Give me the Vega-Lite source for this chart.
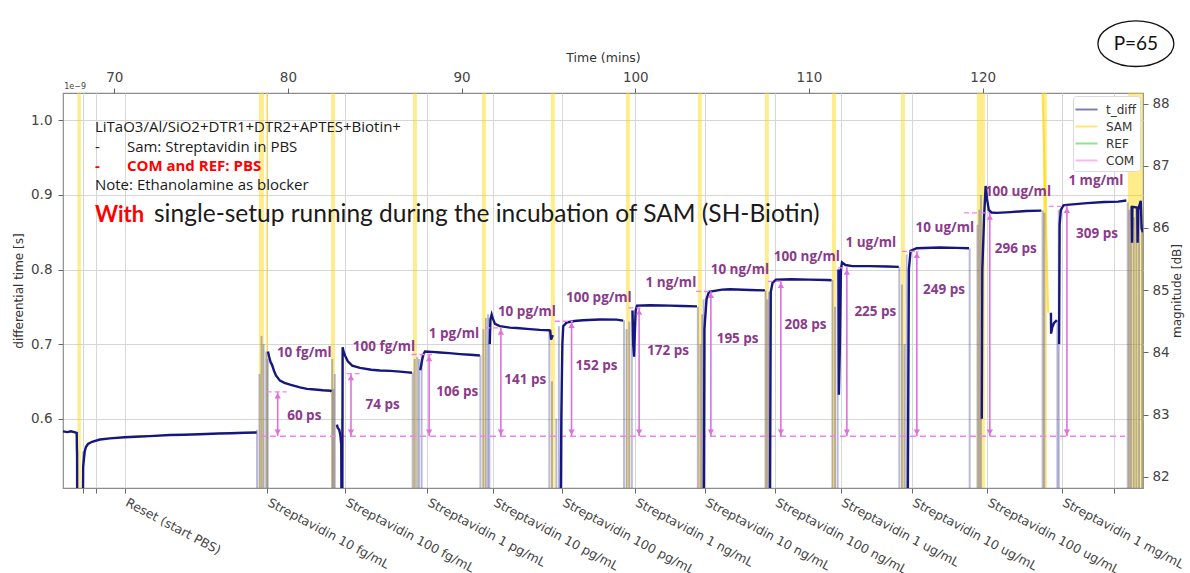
{
  "$schema": "https://vega.github.io/schema/vega-lite/v6.json",
  "width": 1080,
  "height": 395,
  "autosize": {"type": "none"},
  "padding": {"left": 63, "top": 93, "right": 47, "bottom": 85},
  "background": "#ffffff",
  "config": {
    "font": "DejaVu Sans",
    "view": {"stroke": "#8c8c8c", "strokeWidth": 1.2}
  },
  "datasets": {
    "tdiff": [
      {"t": 67.05, "v": 0.583, "seg": 0, "series": "t_diff"},
      {"t": 67.3, "v": 0.582, "seg": 0, "series": "t_diff"},
      {"t": 67.5, "v": 0.583, "seg": 0, "series": "t_diff"},
      {"t": 67.7, "v": 0.582, "seg": 0, "series": "t_diff"},
      {"t": 67.84, "v": 0.581, "seg": 0, "series": "t_diff"},
      {"t": 67.85, "v": 0.56, "seg": 0, "series": "t_diff"},
      {"t": 67.86, "v": 0.553, "seg": 0, "series": "t_diff"},
      {"t": 67.87, "v": 0.45, "seg": 0, "series": "t_diff"},
      {"t": 68.19, "v": 0.45, "seg": 1, "series": "t_diff"},
      {"t": 68.21, "v": 0.535, "seg": 1, "series": "t_diff"},
      {"t": 68.25, "v": 0.545, "seg": 1, "series": "t_diff"},
      {"t": 68.3, "v": 0.556, "seg": 1, "series": "t_diff"},
      {"t": 68.37, "v": 0.562, "seg": 1, "series": "t_diff"},
      {"t": 68.49, "v": 0.566, "seg": 1, "series": "t_diff"},
      {"t": 68.72, "v": 0.569, "seg": 1, "series": "t_diff"},
      {"t": 69.18, "v": 0.572, "seg": 1, "series": "t_diff"},
      {"t": 69.75, "v": 0.5735, "seg": 1, "series": "t_diff"},
      {"t": 70.6, "v": 0.575, "seg": 1, "series": "t_diff"},
      {"t": 71.5, "v": 0.576, "seg": 1, "series": "t_diff"},
      {"t": 72.05, "v": 0.5765, "seg": 1, "series": "t_diff"},
      {"t": 73.2, "v": 0.578, "seg": 1, "series": "t_diff"},
      {"t": 74.0, "v": 0.5785, "seg": 1, "series": "t_diff"},
      {"t": 74.9, "v": 0.579, "seg": 1, "series": "t_diff"},
      {"t": 76.0, "v": 0.58, "seg": 1, "series": "t_diff"},
      {"t": 76.7, "v": 0.5805, "seg": 1, "series": "t_diff"},
      {"t": 77.5, "v": 0.581, "seg": 1, "series": "t_diff"},
      {"t": 78.2, "v": 0.5815, "seg": 1, "series": "t_diff"},
      {"t": 78.85, "v": 0.69, "seg": 2, "series": "t_diff"},
      {"t": 78.92, "v": 0.683, "seg": 2, "series": "t_diff"},
      {"t": 79.0, "v": 0.676, "seg": 2, "series": "t_diff"},
      {"t": 79.08, "v": 0.6725, "seg": 2, "series": "t_diff"},
      {"t": 79.2, "v": 0.664, "seg": 2, "series": "t_diff"},
      {"t": 79.31, "v": 0.658, "seg": 2, "series": "t_diff"},
      {"t": 79.54, "v": 0.651, "seg": 2, "series": "t_diff"},
      {"t": 79.8, "v": 0.648, "seg": 2, "series": "t_diff"},
      {"t": 80.12, "v": 0.6455, "seg": 2, "series": "t_diff"},
      {"t": 80.69, "v": 0.642, "seg": 2, "series": "t_diff"},
      {"t": 81.1, "v": 0.64, "seg": 2, "series": "t_diff"},
      {"t": 81.55, "v": 0.639, "seg": 2, "series": "t_diff"},
      {"t": 82.0, "v": 0.638, "seg": 2, "series": "t_diff"},
      {"t": 82.45, "v": 0.6375, "seg": 2, "series": "t_diff"},
      {"t": 82.5, "v": 0.636, "seg": 2, "series": "t_diff"},
      {"t": 82.82, "v": 0.592, "seg": 3, "series": "t_diff"},
      {"t": 82.86, "v": 0.588, "seg": 3, "series": "t_diff"},
      {"t": 82.95, "v": 0.585, "seg": 3, "series": "t_diff"},
      {"t": 83.02, "v": 0.578, "seg": 3, "series": "t_diff"},
      {"t": 83.07, "v": 0.565, "seg": 3, "series": "t_diff"},
      {"t": 83.09, "v": 0.45, "seg": 3, "series": "t_diff"},
      {"t": 83.13, "v": 0.45, "seg": 4, "series": "t_diff"},
      {"t": 83.15, "v": 0.6957, "seg": 4, "series": "t_diff"},
      {"t": 83.2, "v": 0.69, "seg": 4, "series": "t_diff"},
      {"t": 83.3, "v": 0.684, "seg": 4, "series": "t_diff"},
      {"t": 83.45, "v": 0.677, "seg": 4, "series": "t_diff"},
      {"t": 83.7, "v": 0.671, "seg": 4, "series": "t_diff"},
      {"t": 84.15, "v": 0.668, "seg": 4, "series": "t_diff"},
      {"t": 84.8, "v": 0.6655, "seg": 4, "series": "t_diff"},
      {"t": 85.3, "v": 0.6645, "seg": 4, "series": "t_diff"},
      {"t": 85.9, "v": 0.664, "seg": 4, "series": "t_diff"},
      {"t": 86.45, "v": 0.663, "seg": 4, "series": "t_diff"},
      {"t": 86.9, "v": 0.662, "seg": 4, "series": "t_diff"},
      {"t": 87.14, "v": 0.6615, "seg": 4, "series": "t_diff"},
      {"t": 87.62, "v": 0.665, "seg": 5, "series": "t_diff"},
      {"t": 87.72, "v": 0.678, "seg": 5, "series": "t_diff"},
      {"t": 87.8, "v": 0.686, "seg": 5, "series": "t_diff"},
      {"t": 87.89, "v": 0.69, "seg": 5, "series": "t_diff"},
      {"t": 88.3, "v": 0.6895, "seg": 5, "series": "t_diff"},
      {"t": 88.75, "v": 0.6888, "seg": 5, "series": "t_diff"},
      {"t": 89.3, "v": 0.6878, "seg": 5, "series": "t_diff"},
      {"t": 89.9, "v": 0.6866, "seg": 5, "series": "t_diff"},
      {"t": 90.5, "v": 0.6856, "seg": 5, "series": "t_diff"},
      {"t": 91.05, "v": 0.6846, "seg": 5, "series": "t_diff"},
      {"t": 91.62, "v": 0.7, "seg": 6, "series": "t_diff"},
      {"t": 91.66, "v": 0.733, "seg": 6, "series": "t_diff"},
      {"t": 91.73, "v": 0.7395, "seg": 6, "series": "t_diff"},
      {"t": 91.8, "v": 0.734, "seg": 6, "series": "t_diff"},
      {"t": 91.92, "v": 0.727, "seg": 6, "series": "t_diff"},
      {"t": 92.2, "v": 0.724, "seg": 6, "series": "t_diff"},
      {"t": 92.78, "v": 0.722, "seg": 6, "series": "t_diff"},
      {"t": 93.17, "v": 0.7215, "seg": 6, "series": "t_diff"},
      {"t": 93.93, "v": 0.72, "seg": 6, "series": "t_diff"},
      {"t": 94.5, "v": 0.719, "seg": 6, "series": "t_diff"},
      {"t": 95.03, "v": 0.7185, "seg": 6, "series": "t_diff"},
      {"t": 95.1, "v": 0.718, "seg": 6, "series": "t_diff"},
      {"t": 95.15, "v": 0.706, "seg": 6, "series": "t_diff"},
      {"t": 95.25, "v": 0.712, "seg": 6, "series": "t_diff"},
      {"t": 95.7, "v": 0.45, "seg": 7, "series": "t_diff"},
      {"t": 95.74, "v": 0.6, "seg": 7, "series": "t_diff"},
      {"t": 95.8, "v": 0.7, "seg": 7, "series": "t_diff"},
      {"t": 95.85, "v": 0.724, "seg": 7, "series": "t_diff"},
      {"t": 96.05, "v": 0.729, "seg": 7, "series": "t_diff"},
      {"t": 96.5, "v": 0.731, "seg": 7, "series": "t_diff"},
      {"t": 96.98, "v": 0.732, "seg": 7, "series": "t_diff"},
      {"t": 97.96, "v": 0.733, "seg": 7, "series": "t_diff"},
      {"t": 98.92, "v": 0.7328, "seg": 7, "series": "t_diff"},
      {"t": 99.3, "v": 0.7315, "seg": 7, "series": "t_diff"},
      {"t": 99.84, "v": 0.745, "seg": 8, "series": "t_diff"},
      {"t": 99.88, "v": 0.7, "seg": 8, "series": "t_diff"},
      {"t": 99.93, "v": 0.683, "seg": 8, "series": "t_diff"},
      {"t": 99.98, "v": 0.72, "seg": 8, "series": "t_diff"},
      {"t": 100.02, "v": 0.745, "seg": 8, "series": "t_diff"},
      {"t": 100.1, "v": 0.7516, "seg": 8, "series": "t_diff"},
      {"t": 100.84, "v": 0.752, "seg": 8, "series": "t_diff"},
      {"t": 101.5, "v": 0.7518, "seg": 8, "series": "t_diff"},
      {"t": 101.99, "v": 0.7515, "seg": 8, "series": "t_diff"},
      {"t": 102.7, "v": 0.751, "seg": 8, "series": "t_diff"},
      {"t": 103.55, "v": 0.7505, "seg": 8, "series": "t_diff"},
      {"t": 103.94, "v": 0.45, "seg": 9, "series": "t_diff"},
      {"t": 103.98, "v": 0.72, "seg": 9, "series": "t_diff"},
      {"t": 104.1, "v": 0.76, "seg": 9, "series": "t_diff"},
      {"t": 104.24, "v": 0.77, "seg": 9, "series": "t_diff"},
      {"t": 105.0, "v": 0.773, "seg": 9, "series": "t_diff"},
      {"t": 105.45, "v": 0.7735, "seg": 9, "series": "t_diff"},
      {"t": 106.6, "v": 0.7725, "seg": 9, "series": "t_diff"},
      {"t": 107.46, "v": 0.772, "seg": 9, "series": "t_diff"},
      {"t": 107.75, "v": 0.45, "seg": 10, "series": "t_diff"},
      {"t": 107.8, "v": 0.77, "seg": 10, "series": "t_diff"},
      {"t": 107.9, "v": 0.782, "seg": 10, "series": "t_diff"},
      {"t": 108.1, "v": 0.7865, "seg": 10, "series": "t_diff"},
      {"t": 109.0, "v": 0.787, "seg": 10, "series": "t_diff"},
      {"t": 110.0, "v": 0.7865, "seg": 10, "series": "t_diff"},
      {"t": 111.0, "v": 0.786, "seg": 10, "series": "t_diff"},
      {"t": 111.3, "v": 0.7855, "seg": 10, "series": "t_diff"},
      {"t": 111.7, "v": 0.8, "seg": 11, "series": "t_diff"},
      {"t": 111.72, "v": 0.632, "seg": 11, "series": "t_diff"},
      {"t": 111.78, "v": 0.7, "seg": 11, "series": "t_diff"},
      {"t": 111.84, "v": 0.8, "seg": 11, "series": "t_diff"},
      {"t": 111.9, "v": 0.8095, "seg": 11, "series": "t_diff"},
      {"t": 112.1, "v": 0.806, "seg": 11, "series": "t_diff"},
      {"t": 112.5, "v": 0.8045, "seg": 11, "series": "t_diff"},
      {"t": 113.5, "v": 0.8045, "seg": 11, "series": "t_diff"},
      {"t": 114.5, "v": 0.804, "seg": 11, "series": "t_diff"},
      {"t": 115.17, "v": 0.8035, "seg": 11, "series": "t_diff"},
      {"t": 115.68, "v": 0.45, "seg": 12, "series": "t_diff"},
      {"t": 115.75, "v": 0.8, "seg": 12, "series": "t_diff"},
      {"t": 115.85, "v": 0.825, "seg": 12, "series": "t_diff"},
      {"t": 116.2, "v": 0.8285, "seg": 12, "series": "t_diff"},
      {"t": 117.54, "v": 0.8295, "seg": 12, "series": "t_diff"},
      {"t": 118.5, "v": 0.829, "seg": 12, "series": "t_diff"},
      {"t": 119.21, "v": 0.8285, "seg": 12, "series": "t_diff"},
      {"t": 119.95, "v": 0.6, "seg": 13, "series": "t_diff"},
      {"t": 119.98, "v": 0.8, "seg": 13, "series": "t_diff"},
      {"t": 120.08, "v": 0.87, "seg": 13, "series": "t_diff"},
      {"t": 120.17, "v": 0.912, "seg": 13, "series": "t_diff"},
      {"t": 120.25, "v": 0.895, "seg": 13, "series": "t_diff"},
      {"t": 120.35, "v": 0.88, "seg": 13, "series": "t_diff"},
      {"t": 120.5, "v": 0.8765, "seg": 13, "series": "t_diff"},
      {"t": 120.8, "v": 0.876, "seg": 13, "series": "t_diff"},
      {"t": 121.6, "v": 0.877, "seg": 13, "series": "t_diff"},
      {"t": 122.5, "v": 0.8785, "seg": 13, "series": "t_diff"},
      {"t": 123.38, "v": 0.879, "seg": 13, "series": "t_diff"},
      {"t": 123.93, "v": 0.742, "seg": 14, "series": "t_diff"},
      {"t": 123.94, "v": 0.714, "seg": 14, "series": "t_diff"},
      {"t": 124.0, "v": 0.722, "seg": 14, "series": "t_diff"},
      {"t": 124.1, "v": 0.728, "seg": 14, "series": "t_diff"},
      {"t": 124.27, "v": 0.732, "seg": 14, "series": "t_diff"},
      {"t": 124.4, "v": 0.7, "seg": 15, "series": "t_diff"},
      {"t": 124.43, "v": 0.86, "seg": 15, "series": "t_diff"},
      {"t": 124.5, "v": 0.88, "seg": 15, "series": "t_diff"},
      {"t": 124.65, "v": 0.886, "seg": 15, "series": "t_diff"},
      {"t": 125.0, "v": 0.887, "seg": 15, "series": "t_diff"},
      {"t": 126.0, "v": 0.889, "seg": 15, "series": "t_diff"},
      {"t": 127.0, "v": 0.8905, "seg": 15, "series": "t_diff"},
      {"t": 127.8, "v": 0.891, "seg": 15, "series": "t_diff"},
      {"t": 128.27, "v": 0.8925, "seg": 15, "series": "t_diff"},
      {"t": 128.58, "v": 0.885, "seg": 16, "series": "t_diff"},
      {"t": 128.6, "v": 0.836, "seg": 16, "series": "t_diff"},
      {"t": 128.62, "v": 0.884, "seg": 16, "series": "t_diff"},
      {"t": 128.9, "v": 0.883, "seg": 16, "series": "t_diff"},
      {"t": 128.92, "v": 0.836, "seg": 16, "series": "t_diff"},
      {"t": 128.95, "v": 0.88, "seg": 16, "series": "t_diff"},
      {"t": 129.1, "v": 0.892, "seg": 16, "series": "t_diff"},
      {"t": 129.15, "v": 0.855, "seg": 16, "series": "t_diff"},
      {"t": 129.22, "v": 0.85, "seg": 16, "series": "t_diff"}
    ],
    "spikes": [
      {"t": 68.2, "top": 0.556},
      {"t": 78.22, "top": 0.585}, {"t": 78.36, "top": 0.66}, {"t": 78.48, "top": 0.711}, {"t": 78.6, "top": 0.7}, {"t": 78.75, "top": 0.69}, {"t": 78.84, "top": 0.68},
      {"t": 82.55, "top": 0.68}, {"t": 82.62, "top": 0.64}, {"t": 82.7, "top": 0.66}, {"t": 83.1, "top": 0.6},
      {"t": 87.18, "top": 0.662}, {"t": 87.3, "top": 0.68}, {"t": 87.45, "top": 0.683}, {"t": 87.55, "top": 0.68}, {"t": 87.7, "top": 0.686},
      {"t": 91.08, "top": 0.685}, {"t": 91.25, "top": 0.72}, {"t": 91.4, "top": 0.735}, {"t": 91.52, "top": 0.74}, {"t": 91.6, "top": 0.735},
      {"t": 95.05, "top": 0.718}, {"t": 95.2, "top": 0.65}, {"t": 95.45, "top": 0.6}, {"t": 95.6, "top": 0.724},
      {"t": 99.35, "top": 0.732}, {"t": 99.5, "top": 0.72}, {"t": 99.65, "top": 0.73}, {"t": 99.8, "top": 0.745},
      {"t": 103.6, "top": 0.75}, {"t": 103.75, "top": 0.7}, {"t": 103.85, "top": 0.74}, {"t": 103.93, "top": 0.76},
      {"t": 107.5, "top": 0.772}, {"t": 107.6, "top": 0.76}, {"t": 107.7, "top": 0.77},
      {"t": 111.35, "top": 0.786}, {"t": 111.5, "top": 0.75}, {"t": 111.65, "top": 0.8},
      {"t": 115.2, "top": 0.8035}, {"t": 115.35, "top": 0.78}, {"t": 115.5, "top": 0.7}, {"t": 115.62, "top": 0.82},
      {"t": 119.25, "top": 0.8285}, {"t": 119.7, "top": 0.86}, {"t": 119.8, "top": 0.88}, {"t": 119.9, "top": 0.9},
      {"t": 123.45, "top": 0.879}, {"t": 123.55, "top": 0.876}, {"t": 124.3, "top": 0.732}, {"t": 124.38, "top": 0.88},
      {"t": 128.35, "top": 0.89}, {"t": 128.45, "top": 0.88}, {"t": 128.55, "top": 0.885}, {"t": 128.7, "top": 0.87}, {"t": 128.85, "top": 0.883}, {"t": 129.0, "top": 0.88}, {"t": 129.18, "top": 0.86}
    ],
    "bands": [
      {"t1": 67.88, "t2": 68.08},
      {"t1": 78.33, "t2": 78.62},
      {"t1": 78.73, "t2": 78.85},
      {"t1": 82.48, "t2": 82.71},
      {"t1": 87.2, "t2": 87.43},
      {"t1": 91.17, "t2": 91.4},
      {"t1": 95.14, "t2": 95.37},
      {"t1": 99.46, "t2": 99.69},
      {"t1": 103.6, "t2": 103.83},
      {"t1": 107.46, "t2": 107.69},
      {"t1": 111.32, "t2": 111.55},
      {"t1": 115.29, "t2": 115.52},
      {"t1": 119.67, "t2": 120.13},
      {"t1": 123.47, "t2": 123.7},
      {"t1": 128.36, "t2": 129.23}
    ],
    "arrows": [
      {"t": 79.41, "top": 0.636, "m1": 78.77, "m2": 79.93},
      {"t": 83.63, "top": 0.6605, "m1": 83.38, "m2": 84.15},
      {"t": 88.13, "top": 0.686, "m1": 87.12, "m2": 88.3},
      {"t": 92.26, "top": 0.7217, "m1": 91.36, "m2": 92.3},
      {"t": 96.33, "top": 0.7306, "m1": 95.37, "m2": 96.4},
      {"t": 100.22, "top": 0.7485, "m1": 99.6, "m2": 100.3},
      {"t": 104.35, "top": 0.7708, "m1": 103.5, "m2": 104.4},
      {"t": 108.38, "top": 0.7842, "m1": 107.63, "m2": 108.4},
      {"t": 112.18, "top": 0.8021, "m1": 111.67, "m2": 112.25},
      {"t": 116.21, "top": 0.8244, "m1": 115.35, "m2": 116.3},
      {"t": 120.41, "top": 0.8759, "m1": 118.92, "m2": 120.36},
      {"t": 124.85, "top": 0.8847, "m1": 123.81, "m2": 124.9}
    ],
    "conc": [
      {"t": 80.94, "v": 0.6887, "txt": "10 fg/ml"},
      {"t": 85.53, "v": 0.6957, "txt": "100 fg/ml"},
      {"t": 89.56, "v": 0.714, "txt": "1 pg/ml"},
      {"t": 93.76, "v": 0.7436, "txt": "10 pg/ml"},
      {"t": 97.9, "v": 0.7623, "txt": "100 pg/ml"},
      {"t": 102.05, "v": 0.7825, "txt": "1 ng/ml"},
      {"t": 106.02, "v": 0.7999, "txt": "10 ng/ml"},
      {"t": 109.88, "v": 0.8173, "txt": "100 ng/ml"},
      {"t": 113.56, "v": 0.8361, "txt": "1 ug/ml"},
      {"t": 117.82, "v": 0.8562, "txt": "10 ug/ml"},
      {"t": 122.03, "v": 0.9044, "txt": "100 ug/ml"},
      {"t": 126.52, "v": 0.9192, "txt": "1 mg/ml"}
    ],
    "ps": [
      {"t": 80.94, "v": 0.6036, "txt": "60 ps"},
      {"t": 85.45, "v": 0.6185, "txt": "74 ps"},
      {"t": 89.75, "v": 0.6354, "txt": "106 ps"},
      {"t": 93.66, "v": 0.6524, "txt": "141 ps"},
      {"t": 97.77, "v": 0.6702, "txt": "152 ps"},
      {"t": 101.88, "v": 0.6903, "txt": "172 ps"},
      {"t": 105.89, "v": 0.7074, "txt": "195 ps"},
      {"t": 109.8, "v": 0.7252, "txt": "208 ps"},
      {"t": 113.82, "v": 0.7432, "txt": "225 ps"},
      {"t": 117.77, "v": 0.773, "txt": "249 ps"},
      {"t": 121.9, "v": 0.8276, "txt": "296 ps"},
      {"t": 126.58, "v": 0.8477, "txt": "309 ps"}
    ],
    "notes": [
      {"t": 68.89, "v": 0.9912, "txt": "LiTaO3/Al/SiO2+DTR1+DTR2+APTES+Biotin+"},
      {"t": 68.89, "v": 0.9643, "txt": "-"},
      {"t": 70.73, "v": 0.9643, "txt": "Sam: Streptavidin in PBS"},
      {"t": 68.89, "v": 0.9129, "txt": "Note: Ethanolamine as blocker"}
    ],
    "notesRed": [
      {"t": 68.89, "v": 0.9393, "txt": "-"},
      {"t": 70.73, "v": 0.9393, "txt": "COM and REF: PBS"}
    ],
    "bigRed": [{"t": 68.89, "v": 0.8736, "txt": "With"}],
    "bigBlack": [{"t": 72.29, "v": 0.8736, "txt": "single-setup running during the incubation of SAM (SH-Biotin)"}],
    "badge": [{"t": 128.82, "v": 1.1028, "txt": "P=65"}],
    "expo": [{"t": 67.12, "v": 1.0395, "txt": "1e\u22129"}],
    "diag": [{"t1": 123.45, "t2": 123.77, "v1": 1.0367, "v2": 0.742}],
    "com": [{"t1": 78.39, "t2": 128.2, "v": 0.5764}],
    "mag": [{"t": 100, "m": 85}]
  },
  "layer": [
    {
      "layer": [
        {
          "data": {"name": "bands"},
          "mark": {"type": "rect", "color": "#FFD700", "opacity": 0.45},
          "encoding": {
            "x": {"field": "t1", "type": "quantitative", "scale": {"domain": [67.05, 129.23], "nice": false, "zero": false}},
            "x2": {"field": "t2"}
          }
        },
        {
          "data": {"name": "diag"},
          "mark": {"type": "rule", "color": "#FFD700", "opacity": 0.7, "strokeWidth": 2},
          "encoding": {
            "x": {"field": "t1", "type": "quantitative", "scale": {"domain": [67.05, 129.23], "nice": false, "zero": false}},
            "x2": {"field": "t2"},
            "y": {"field": "v1", "type": "quantitative", "scale": {"domain": [0.507, 1.0367], "nice": false, "zero": false}},
            "y2": {"field": "v2"}
          }
        },
        {
          "data": {"name": "spikes"},
          "mark": {"type": "rule", "color": "#3c3c96", "opacity": 0.35, "strokeWidth": 2, "clip": true},
          "encoding": {
            "x": {"field": "t", "type": "quantitative", "scale": {"domain": [67.05, 129.23], "nice": false, "zero": false}},
            "y": {"field": "top", "type": "quantitative", "scale": {"domain": [0.507, 1.0367], "nice": false, "zero": false}},
            "y2": {"datum": 0.45}
          }
        },
        {
          "data": {"name": "com"},
          "mark": {"type": "rule", "color": "#EE82EE", "strokeWidth": 1.3, "strokeDash": [6, 4]},
          "encoding": {
            "x": {"field": "t1", "type": "quantitative", "scale": {"domain": [67.05, 129.23], "nice": false, "zero": false}},
            "x2": {"field": "t2"},
            "y": {"field": "v", "type": "quantitative", "scale": {"domain": [0.507, 1.0367], "nice": false, "zero": false}}
          }
        },
        {
          "data": {"name": "tdiff"},
          "mark": {"type": "line", "clip": true, "strokeWidth": 2.4},
          "encoding": {
            "x": {
              "field": "t", "type": "quantitative",
              "scale": {"domain": [67.05, 129.23], "nice": false, "zero": false},
              "axis": {
                "orient": "bottom",
                "values": [68.2, 68.95, 70.62, 78.79, 83.28, 88.0, 91.8, 95.77, 99.97, 104.0, 108.03, 111.83, 115.92, 120.24, 124.55, 127.55],
                "labelExpr": "datum.value < 70 ? '' : datum.value < 75 ? 'Reset (start PBS)' : datum.value < 81 ? 'Streptavidin 10 fg/mL' : datum.value < 86 ? 'Streptavidin 100 fg/mL' : datum.value < 90 ? 'Streptavidin 1 pg/mL' : datum.value < 94 ? 'Streptavidin 10 pg/mL' : datum.value < 98 ? 'Streptavidin 100 pg/mL' : datum.value < 102 ? 'Streptavidin 1 ng/mL' : datum.value < 106 ? 'Streptavidin 10 ng/mL' : datum.value < 110 ? 'Streptavidin 100 ng/mL' : datum.value < 114 ? 'Streptavidin 1 ug/mL' : datum.value < 118 ? 'Streptavidin 10 ug/mL' : datum.value < 122 ? 'Streptavidin 100 ug/mL' : datum.value < 126 ? 'Streptavidin 1 mg/mL' : ''",
                "labelAngle": 28,
                "labelAlign": "left",
                "labelBaseline": "top",
                "labelFontSize": 12.5,
                "labelColor": "#444444",
                "labelPadding": 3,
                "labelOffset": 4,
                "labelOverlap": false,
                "labelBound": false,
                "labelFlush": false,
                "tickSize": 5,
                "tickColor": "#666666",
                "domain": false,
                "grid": true,
                "gridColor": "#d6d6d6",
                "title": null
              }
            },
            "y": {
              "field": "v", "type": "quantitative",
              "scale": {"domain": [0.507, 1.0367], "nice": false, "zero": false},
              "axis": {
                "orient": "left",
                "values": [0.6, 0.7, 0.8, 0.9, 1.0],
                "format": ".1f",
                "labelFontSize": 13.5,
                "labelColor": "#444444",
                "labelPadding": 6,
                "tickSize": 5,
                "tickColor": "#666666",
                "domain": false,
                "grid": true,
                "gridColor": "#d6d6d6",
                "title": "differential time [s]",
                "titleFontSize": 12,
                "titleFontWeight": "normal",
                "titleColor": "#333333",
                "titlePadding": 5
              }
            },
            "detail": {"field": "seg", "type": "nominal"},
            "color": {
              "field": "series", "type": "nominal",
              "scale": {"domain": ["t_diff", "SAM", "REF", "COM"], "range": ["#16167e", "#FFD700", "#32CD32", "#EE82EE"]},
              "legend": {
                "orient": "top-right",
                "title": null,
                "symbolType": "M -1.3 0 L 1.3 0",
                "symbolStrokeWidth": 2,
                "symbolSize": 289,
                "symbolOpacity": 0.55,
                "labelFontSize": 12,
                "labelColor": "#333333",
                "labelOffset": 10,
                "fillColor": "#ffffff",
                "strokeColor": "#d9d9d9",
                "cornerRadius": 3,
                "padding": 4,
                "rowPadding": 1,
                "offset": 3
              }
            }
          }
        },
        {
          "data": {"name": "arrows"},
          "mark": {"type": "rule", "color": "#E070DC", "strokeWidth": 1.6},
          "encoding": {
            "x": {"field": "t", "type": "quantitative", "scale": {"domain": [67.05, 129.23], "nice": false, "zero": false}},
            "y": {"field": "top", "type": "quantitative", "scale": {"domain": [0.507, 1.0367], "nice": false, "zero": false}},
            "y2": {"datum": 0.5764}
          }
        },
        {
          "data": {"name": "arrows"},
          "mark": {"type": "rule", "color": "#EE82EE", "strokeWidth": 1.3, "strokeDash": [5, 3]},
          "encoding": {
            "x": {"field": "m1", "type": "quantitative", "scale": {"domain": [67.05, 129.23], "nice": false, "zero": false}},
            "x2": {"field": "m2"},
            "y": {"field": "top", "type": "quantitative", "scale": {"domain": [0.507, 1.0367], "nice": false, "zero": false}}
          }
        },
        {
          "data": {"name": "arrows"},
          "mark": {"type": "point", "shape": "triangle-up", "filled": true, "color": "#E070DC", "opacity": 1, "size": 40, "yOffset": 4},
          "encoding": {
            "x": {"field": "t", "type": "quantitative", "scale": {"domain": [67.05, 129.23], "nice": false, "zero": false}},
            "y": {"field": "top", "type": "quantitative", "scale": {"domain": [0.507, 1.0367], "nice": false, "zero": false}}
          }
        },
        {
          "data": {"name": "arrows"},
          "mark": {"type": "point", "shape": "triangle-down", "filled": true, "color": "#E070DC", "opacity": 1, "size": 40, "yOffset": -4},
          "encoding": {
            "x": {"field": "t", "type": "quantitative", "scale": {"domain": [67.05, 129.23], "nice": false, "zero": false}},
            "y": {"datum": 0.5764, "type": "quantitative", "scale": {"domain": [0.507, 1.0367], "nice": false, "zero": false}}
          }
        },
        {
          "data": {"name": "conc"},
          "mark": {"type": "text", "font": "Open Sans", "fontWeight": "bold", "fontSize": 13.5, "color": "#8b3a8b", "align": "center", "baseline": "middle"},
          "encoding": {
            "x": {"field": "t", "type": "quantitative", "scale": {"domain": [67.05, 129.23], "nice": false, "zero": false}},
            "y": {"field": "v", "type": "quantitative", "scale": {"domain": [0.507, 1.0367], "nice": false, "zero": false}},
            "text": {"field": "txt"}
          }
        },
        {
          "data": {"name": "ps"},
          "mark": {"type": "text", "font": "Open Sans", "fontWeight": "bold", "fontSize": 13.5, "color": "#8b3a8b", "align": "center", "baseline": "middle"},
          "encoding": {
            "x": {"field": "t", "type": "quantitative", "scale": {"domain": [67.05, 129.23], "nice": false, "zero": false}},
            "y": {"field": "v", "type": "quantitative", "scale": {"domain": [0.507, 1.0367], "nice": false, "zero": false}},
            "text": {"field": "txt"}
          }
        },
        {
          "data": {"name": "notes"},
          "mark": {"type": "text", "font": "Open Sans", "fontSize": 15, "color": "#1a1a1a", "align": "left", "baseline": "middle"},
          "encoding": {
            "x": {"field": "t", "type": "quantitative", "scale": {"domain": [67.05, 129.23], "nice": false, "zero": false}},
            "y": {"field": "v", "type": "quantitative", "scale": {"domain": [0.507, 1.0367], "nice": false, "zero": false}},
            "text": {"field": "txt"}
          }
        },
        {
          "data": {"name": "notesRed"},
          "mark": {"type": "text", "font": "Open Sans", "fontSize": 15, "fontWeight": "bold", "color": "#ff0000", "align": "left", "baseline": "middle"},
          "encoding": {
            "x": {"field": "t", "type": "quantitative", "scale": {"domain": [67.05, 129.23], "nice": false, "zero": false}},
            "y": {"field": "v", "type": "quantitative", "scale": {"domain": [0.507, 1.0367], "nice": false, "zero": false}},
            "text": {"field": "txt"}
          }
        },
        {
          "data": {"name": "bigRed"},
          "mark": {"type": "text", "font": "Lato", "fontSize": 22, "fontWeight": "bold", "color": "#ff0000", "align": "left", "baseline": "middle"},
          "encoding": {
            "x": {"field": "t", "type": "quantitative", "scale": {"domain": [67.05, 129.23], "nice": false, "zero": false}},
            "y": {"field": "v", "type": "quantitative", "scale": {"domain": [0.507, 1.0367], "nice": false, "zero": false}},
            "text": {"field": "txt"}
          }
        },
        {
          "data": {"name": "bigBlack"},
          "mark": {"type": "text", "font": "Lato", "fontSize": 24.5, "color": "#1a1a1a", "align": "left", "baseline": "middle"},
          "encoding": {
            "x": {"field": "t", "type": "quantitative", "scale": {"domain": [67.05, 129.23], "nice": false, "zero": false}},
            "y": {"field": "v", "type": "quantitative", "scale": {"domain": [0.507, 1.0367], "nice": false, "zero": false}},
            "text": {"field": "txt"}
          }
        },
        {
          "data": {"name": "badge"},
          "mark": {"type": "point", "shape": "M -1 0 A 1 0.6 0 1 0 1 0 A 1 0.6 0 1 0 -1 0 Z", "filled": false, "stroke": "#111111", "strokeWidth": 1.3, "opacity": 1, "size": 5776},
          "encoding": {
            "x": {"field": "t", "type": "quantitative", "scale": {"domain": [67.05, 129.23], "nice": false, "zero": false}},
            "y": {"field": "v", "type": "quantitative", "scale": {"domain": [0.507, 1.0367], "nice": false, "zero": false}}
          }
        },
        {
          "data": {"name": "badge"},
          "mark": {"type": "text", "font": "Lato", "fontSize": 19, "color": "#111111", "align": "center", "baseline": "middle"},
          "encoding": {
            "x": {"field": "t", "type": "quantitative", "scale": {"domain": [67.05, 129.23], "nice": false, "zero": false}},
            "y": {"field": "v", "type": "quantitative", "scale": {"domain": [0.507, 1.0367], "nice": false, "zero": false}},
            "text": {"field": "txt"}
          }
        },
        {
          "data": {"name": "expo"},
          "mark": {"type": "text", "fontSize": 8, "color": "#444444", "align": "left", "baseline": "bottom"},
          "encoding": {
            "x": {"field": "t", "type": "quantitative", "scale": {"domain": [67.05, 129.23], "nice": false, "zero": false}},
            "y": {"field": "v", "type": "quantitative", "scale": {"domain": [0.507, 1.0367], "nice": false, "zero": false}},
            "text": {"field": "txt"}
          }
        }
      ]
    },
    {
      "data": {"name": "mag"},
      "mark": {"type": "point", "opacity": 0},
      "encoding": {
        "x": {
          "field": "t", "type": "quantitative",
          "scale": {"domain": [67.05, 129.23], "nice": false, "zero": false},
          "axis": {
            "orient": "top",
            "values": [70, 80, 90, 100, 110, 120],
            "title": "Time (mins)",
            "titleFontWeight": "normal",
            "titleFontSize": 12.5,
            "titleColor": "#333333",
            "titlePadding": 6,
            "labelFontSize": 13.5,
            "labelColor": "#444444",
            "labelPadding": 4,
            "tickSize": 5,
            "tickColor": "#666666",
            "domain": false,
            "grid": false
          }
        },
        "y": {
          "field": "m", "type": "quantitative",
          "scale": {"domain": [81.82, 88.17], "nice": false, "zero": false},
          "axis": {
            "orient": "right",
            "values": [82, 83, 84, 85, 86, 87, 88],
            "title": "magnitude [dB]",
            "titleAngle": 270,
            "titleFontWeight": "normal",
            "titleFontSize": 12,
            "titleColor": "#333333",
            "titlePadding": 14,
            "labelFontSize": 13.5,
            "labelColor": "#444444",
            "labelPadding": 4,
            "tickSize": 5,
            "tickColor": "#666666",
            "domain": false,
            "grid": false
          }
        }
      }
    }
  ],
  "resolve": {"scale": {"y": "independent"}, "axis": {"x": "independent"}}
}
